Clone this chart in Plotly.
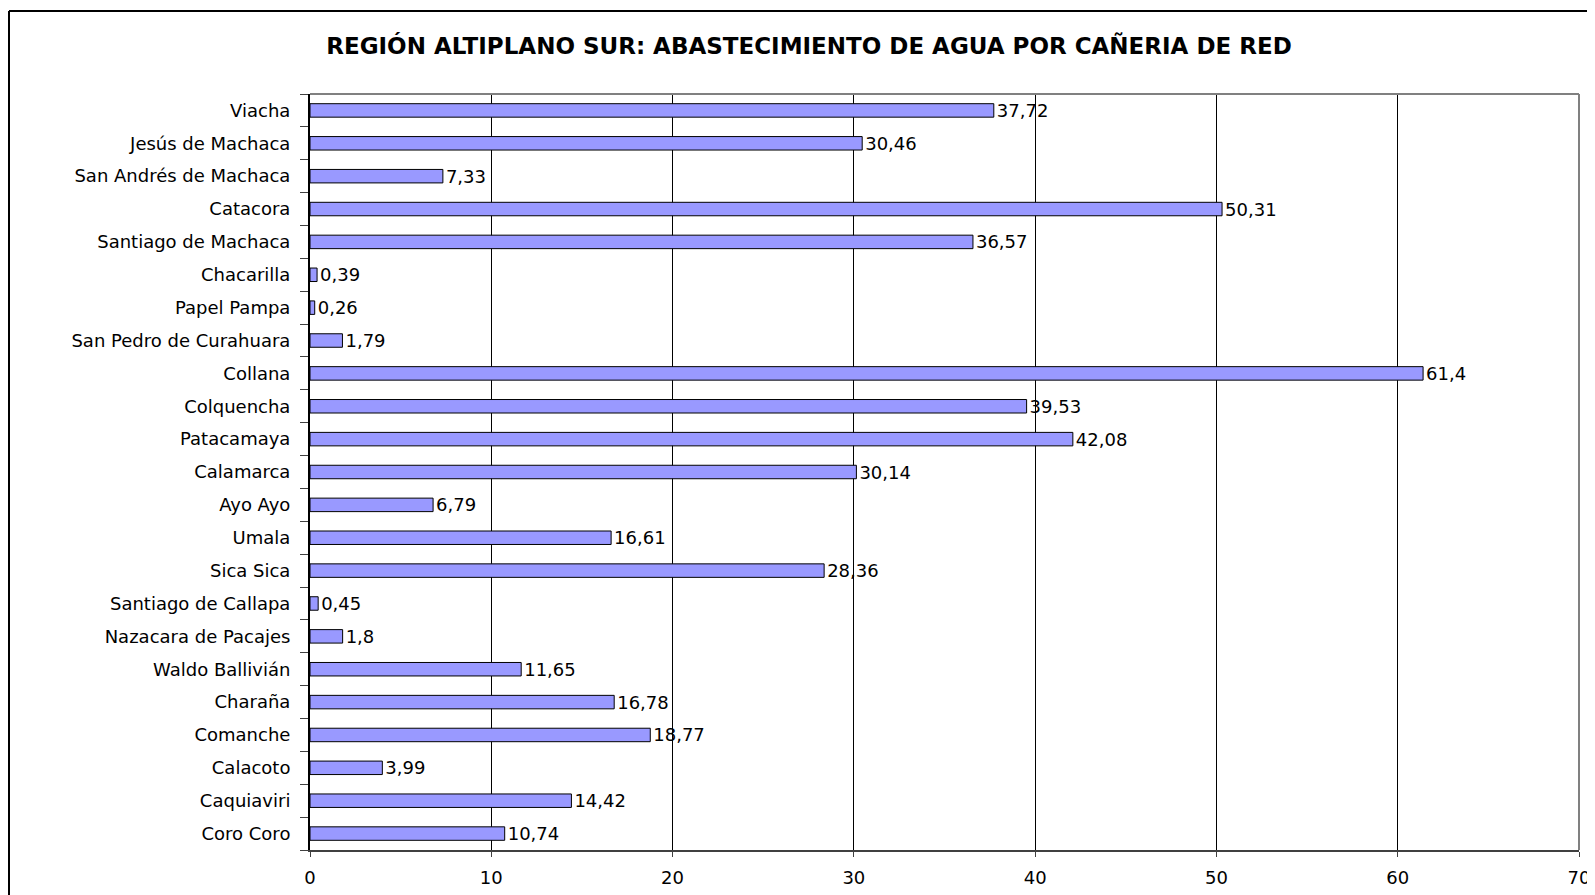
import plotly.graph_objects as go

municipios = [
    "Viacha", "Jesús de Machaca", "San Andrés de Machaca", "Catacora",
    "Santiago de Machaca", "Chacarilla", "Papel Pampa", "San Pedro de Curahuara",
    "Collana", "Colquencha", "Patacamaya", "Calamarca", "Ayo Ayo", "Umala",
    "Sica Sica", "Santiago de Callapa", "Nazacara de Pacajes", "Waldo Ballivián",
    "Charaña", "Comanche", "Calacoto", "Caquiaviri", "Coro Coro",
]
agua_red = [
    37.72, 30.46, 7.33, 50.31, 36.57, 0.39, 0.26, 1.79, 61.4, 39.53, 42.08,
    30.14, 6.79, 16.61, 28.36, 0.45, 1.8, 11.65, 16.78, 18.77, 3.99, 14.42, 10.74,
]
ticks_x = [0, 10, 20, 30, 40, 50, 60, 70]

etiquetas = [f"{v}".replace(".", ",") for v in agua_red]

# la pagina html deja 8px de margen, las posiciones se compensan
W, H = 1595, 895
ml, mr, mt, mb = 302, 24, 86, 53
pw, ph = W - ml - mr, H - mt - mb

fuente = "DejaVu Sans, Verdana, sans-serif"

fig = go.Figure(go.Bar(
    x=agua_red,
    y=municipios,
    orientation="h",
    width=0.41,
    marker=dict(color="#9999FF", line=dict(color="black", width=1)),
    text=etiquetas,
    textposition="outside",
    constraintext="none",
    cliponaxis=False,
    textfont=dict(family=fuente, size=18, color="black"),
    hoverinfo="x+y",
))

# borde exterior (izquierda y arriba) y borde gris del area de trazado
bx = (1 - ml) / pw
by = (H - mb - 3) / ph
shapes = [
    dict(type="line", xref="paper", yref="paper", x0=bx, x1=bx, y0=-1, y1=by,
         line=dict(color="black", width=2)),
    dict(type="line", xref="paper", yref="paper", x0=bx, x1=2, y0=by, y1=by,
         line=dict(color="black", width=2)),
    dict(type="line", xref="paper", yref="paper", x0=0, x1=1, y0=1, y1=1,
         line=dict(color="#808080", width=2)),
    dict(type="line", xref="paper", yref="paper", x0=1, x1=1, y0=0, y1=1,
         line=dict(color="#808080", width=2)),
]

fig.update_layout(
    width=W, height=H,
    margin=dict(l=ml, r=mr, t=mt, b=mb),
    paper_bgcolor="white",
    plot_bgcolor="white",
    showlegend=False,
    font=dict(family=fuente, color="black"),
    title=dict(
        text="<b>REGIÓN ALTIPLANO SUR: ABASTECIMIENTO DE AGUA POR CAÑERIA DE RED</b>",
        x=801 / W, xref="container", xanchor="center",
        y=1 - 38 / H, yref="container", yanchor="middle",
        font=dict(family=fuente, size=23, color="black"),
    ),
    xaxis=dict(
        range=[0, 70],
        tickvals=ticks_x,
        showgrid=True, gridcolor="black", gridwidth=1,
        zeroline=False,
        showline=True, linecolor="#404040", linewidth=2,
        ticks="outside", ticklen=5, tickcolor="#404040",
        tickfont=dict(size=18),
        ticklabelstandoff=5,
        fixedrange=True,
    ),
    yaxis=dict(
        type="category",
        categoryorder="array",
        categoryarray=municipios[::-1],
        showgrid=False,
        showline=True, linecolor="black", linewidth=2,
        ticks="outside", ticklen=8, tickcolor="#404040",
        tickson="boundaries",
        tickfont=dict(size=18),
        ticklabelstandoff=14,
        fixedrange=True,
    ),
    shapes=shapes,
)

fig.write_html("out.html")
